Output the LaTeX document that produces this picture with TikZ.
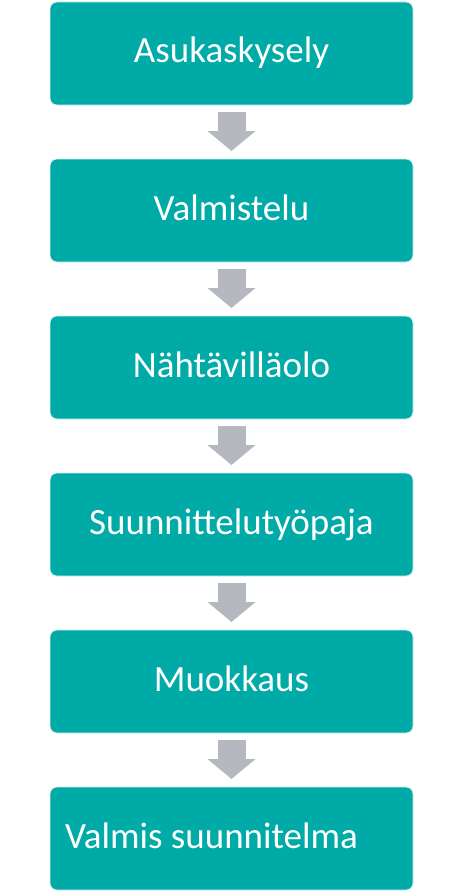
\documentclass[tikz,border=0pt]{standalone}
\usepackage{fontspec}
\setmainfont{Carlito}
\usetikzlibrary{positioning, arrows.meta}
\definecolor{stepteal}{RGB}{0,170,166}
\definecolor{stepgray}{RGB}{181,184,191}
\definecolor{stepedge}{RGB}{214,238,240}

\begin{document}
\begin{tikzpicture}[x=1pt, y=1pt, node distance=54pt,
  every node/.style = {shape=rectangle, align=center, text=white},
  phase/.style = {rounded corners=7pt, fill=stepteal, draw=stepedge, line width=0.8pt,
    outer sep=0pt, minimum width=363pt, minimum height=103pt,
    text height=25pt, text depth=6pt, font=\fontsize{37}{44}\selectfont},
  flow/.style = {stepgray, line width=28pt, -{Triangle[width=47pt, length=20pt]}}]
  \useasboundingbox (0,0) rectangle (463,-891);
  \node[phase] (asukas) at (231.5,-53.5) {Asukaskysely};
  \node[phase, below=of asukas] (valm) {Valmistelu};
  \node[phase, below=of valm] (nahta) {Nähtävilläolo};
  \node[phase, below=of nahta] (tyopaja) {Suunnittelutyöpaja};
  \node[phase, below=of tyopaja] (muokk) {Muokkaus};
  \node[phase, below=of muokk] (valmis) {\makebox[333pt][l]{Valmis suunnitelma}};
  % arrows between phases
  \foreach \a/\b in {asukas/valm, valm/nahta, nahta/tyopaja, tyopaja/muokk, muokk/valmis}
    \draw[flow] ([yshift=-7pt]\a.south) -- ([yshift=8pt]\b.north);
\end{tikzpicture}
\end{document}
